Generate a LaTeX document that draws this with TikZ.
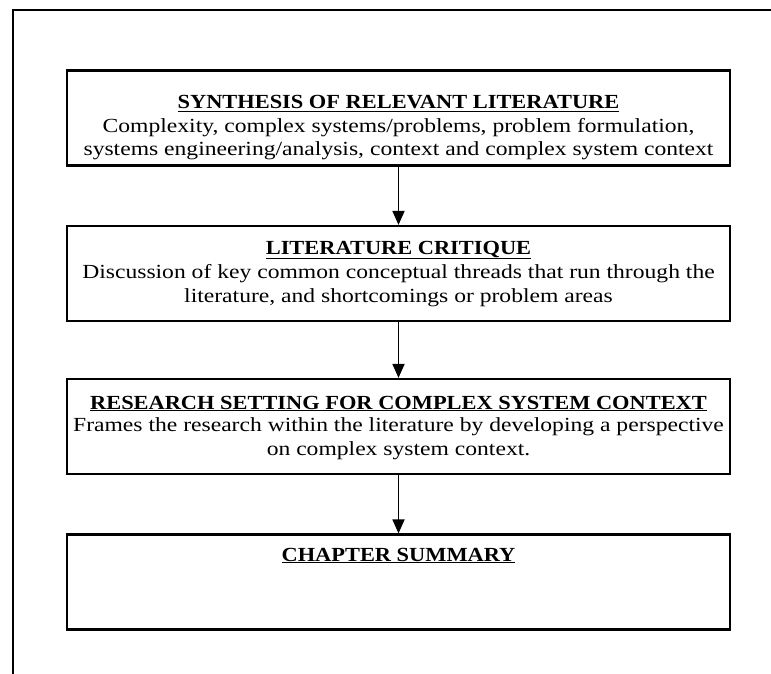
\documentclass[tikz,border=0pt]{standalone}
\usepackage{fontspec}
\setmainfont{Liberation Serif}
\newfontfamily\headfont[FakeStretch=1.12]{Liberation Serif}
\newfontfamily\bodyfont[FakeStretch=1.18]{Liberation Serif}
\usetikzlibrary{arrows.meta}
\begin{document}
\begin{tikzpicture}[x=1pt,y=-1pt,
  stagebox/.style={draw=black,line width=2.2pt,minimum width=663pt,minimum height=95pt,inner sep=0pt},
  headtext/.style={font=\headfont\fontsize{20}{23.5}\selectfont\bfseries,inner sep=0pt,anchor=base},
  bodytext/.style={font=\bodyfont\fontsize{20}{23.5}\selectfont,inner sep=0pt,anchor=base,align=center},
  flow/.style={line width=1.8pt,-{Triangle[length=14pt,width=12pt]}},
  frame/.style={line width=2.2pt}]
\useasboundingbox (0,0) rectangle (771,674);
% outer frame (top and left edges)
\coordinate (ftop) at (780,10);
\coordinate (fcorner) at (13,10);
\coordinate (fbottom) at (13,680);
\draw[frame] (ftop) -- (fcorner) -- (fbottom);
% stage boxes
\node[stagebox] (b1) at (398.5,118) {};
\node[stagebox] (b2) at (398.5,273.5) {};
\node[stagebox] (b3) at (398.5,426.5) {};
\node[stagebox] (b4) at (398.5,582) {};
% headings and descriptions (description nodes sit on their last baseline)
\node[headtext] (t1) at (398.5,109) {\underline{SYNTHESIS OF RELEVANT LITERATURE}};
\node[bodytext] (d1) at (398.5,156) {Complexity, complex systems/problems, problem formulation,\\systems engineering/analysis, context and complex system context};
\node[headtext] (t2) at (398.5,254) {\underline{LITERATURE CRITIQUE}};
\node[bodytext] (d2) at (398.5,302) {Discussion of key common conceptual threads that run through the\\literature, and shortcomings or problem areas};
\node[headtext] (t3) at (398.5,409) {\underline{RESEARCH SETTING FOR COMPLEX SYSTEM CONTEXT}};
\node[bodytext] (d3) at (398.5,455) {Frames the research within the literature by developing a perspective\\on complex system context.};
\node[headtext] (t4) at (398.5,561) {\underline{CHAPTER SUMMARY}};
% connectors
\draw[flow] (b1.south) -- (b2.north);
\draw[flow] (b2.south) -- (b3.north);
\draw[flow] (b3.south) -- (b4.north);
\end{tikzpicture}
\end{document}
